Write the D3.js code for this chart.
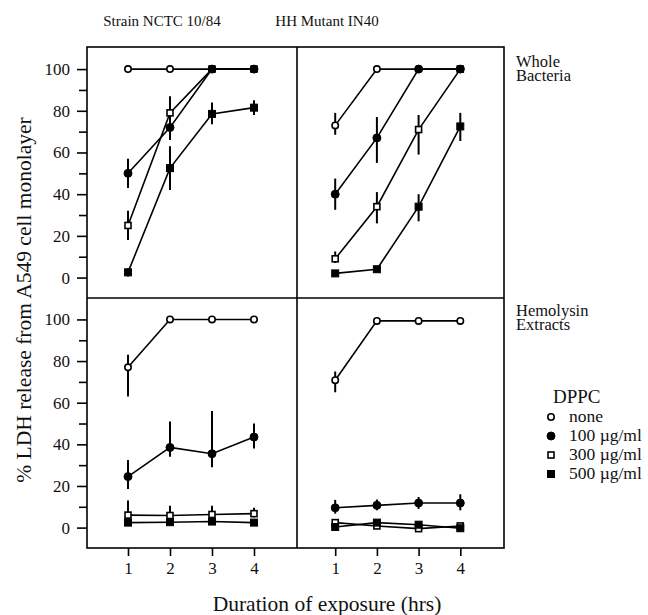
<!DOCTYPE html>
<html>
<head>
<meta charset="utf-8">
<script src="https://cdn.jsdelivr.net/npm/d3@7"></script>
<style>
  body { margin: 0; background: #fff; }
  svg text { font-family: "Liberation Serif", "Times New Roman", Times, "DejaVu Serif", serif; fill: #111; }
</style>
</head>
<body>
<div id="chart"></div>
<script>
// Sizes
const width = 648;
const height = 615;
const serif = "'Liberation Serif', 'Times New Roman', Times, 'DejaVu Serif', serif";

const frame = { left: 87, mid: 297, right: 504, top: 47, midY: 298, bottom: 548 };

// Data
const hours = [1, 2, 3, 4];
const doses = ["none", "100 \u00b5g/ml", "300 \u00b5g/ml", "500 \u00b5g/ml"];
const strains = ["Strain NCTC 10/84", "HH Mutant IN40"];
const preps = [["Whole", "Bacteria"], ["Hemolysin", "Extracts"]];
const yTicks = [0, 20, 40, 60, 80, 100];
const yMinorTicks = [10, 30, 50, 70, 90];

// rows follow doses, columns follow hours
const nctcWholeMean = [[100, 100, 100, 100], [50, 72, 100, 100], [25, 79, 100, 100], [2.5, 52.5, 78.5, 81.5]];
const nctcWholeLow  = [[100, 100, 100, 100], [43, 66, 100, 100], [18, 72, 100, 100], [0.5, 42, 73.5, 78]];
const nctcWholeHigh = [[100, 100, 100, 100], [57, 78, 100, 100], [32, 87, 100, 100], [4.5, 63, 84, 85]];

const mutantWholeMean = [[73, 100, 100, 100], [40, 67, 100, 100], [9, 34, 71, 100], [2, 4, 34, 72.5]];
const mutantWholeLow  = [[68.5, 100, 100, 100], [32.5, 55, 100, 100], [7, 26, 59, 100], [1, 2.5, 27, 65.5]];
const mutantWholeHigh = [[79, 100, 100, 100], [47.5, 77, 100, 100], [12.5, 41, 78, 100], [3, 5.5, 40, 79]];

const nctcExtractMean = [[77, 100, 100, 100], [24.5, 38.5, 35.5, 43.5], [6, 5.8, 6.3, 6.7], [2.4, 2.6, 2.9, 2.4]];
const nctcExtractLow  = [[63, 100, 100, 100], [18.5, 34, 29, 38], [4.5, 4.5, 4.8, 5], [1.5, 1.8, 2, 1.5]];
const nctcExtractHigh = [[83, 100, 100, 100], [32.5, 51, 56, 50], [13, 10.5, 10.5, 9.5], [3.3, 3.4, 3.8, 3.3]];

const mutantExtractMean = [[70.8, 99.3, 99.3, 99.3], [9.5, 10.7, 11.8, 11.8], [2.4, 0.8, -0.5, 0.8], [0.3, 2.4, 1.4, -0.3]];
const mutantExtractLow  = [[65, 99.3, 99.3, 99.3], [6.7, 8.3, 9, 8.3], [2.4, 0.8, -0.5, 0.8], [0.3, 2.4, 1.4, -0.3]];
const mutantExtractHigh = [[75, 99.3, 99.3, 99.3], [13.3, 13.5, 14.7, 16], [2.4, 0.8, -0.5, 0.8], [0.3, 2.4, 1.4, -0.3]];

const panels = [
  { col: 0, row: 0, mean: nctcWholeMean, low: nctcWholeLow, high: nctcWholeHigh },
  { col: 1, row: 0, mean: mutantWholeMean, low: mutantWholeLow, high: mutantWholeHigh },
  { col: 0, row: 1, mean: nctcExtractMean, low: nctcExtractLow, high: nctcExtractHigh },
  { col: 1, row: 1, mean: mutantExtractMean, low: mutantExtractLow, high: mutantExtractHigh }
];

const svg = d3.select("#chart")
  .append("svg")
  .attr("width", width)
  .attr("height", height);

// Scales
const xScales = [
  d3.scaleLinear().domain([0, 5]).range([86, 296]),
  d3.scaleLinear().domain([0, 5]).range([293.5, 502])
];
const yScales = [
  d3.scaleLinear().domain([-9.8, 110.6]).range([frame.midY, frame.top]),
  d3.scaleLinear().domain([-9.8, 110.3]).range([frame.bottom, frame.midY])
];

// Marker drawing
function marker(g, i, cx, cy) {
  if (i === 0 || i === 1) {
    g.append("circle")
      .attr("cx", cx).attr("cy", cy)
      .attr("r", i === 0 ? 3.2 : 4)
      .attr("fill", i === 0 ? "#fff" : "#000")
      .attr("stroke", "#000")
      .attr("stroke-width", i === 0 ? 1.6 : 1);
  } else {
    const s = i === 2 ? 6 : 7;
    g.append("rect")
      .attr("x", cx - s / 2).attr("y", cy - s / 2)
      .attr("width", s).attr("height", s)
      .attr("fill", i === 2 ? "#fff" : "#000")
      .attr("stroke", "#000")
      .attr("stroke-width", i === 2 ? 1.6 : 1);
  }
}

// Panels
panels.forEach(p => {
  const x = xScales[p.col];
  const y = yScales[p.row];
  const g = svg.append("g");
  const order = [0, 2, 3, 1];

  order.forEach(i => {
    const pts = hours.map((h, j) => ({ h, v: p.mean[i][j], lo: p.low[i][j], hi: p.high[i][j] }));

    g.append("path")
      .datum(pts)
      .attr("fill", "none")
      .attr("stroke", "#000")
      .attr("stroke-width", 1.6)
      .attr("d", d3.line().x(d => x(d.h)).y(d => y(d.v)));

    g.selectAll(null)
      .data(pts.filter(d => d.hi - d.lo > 0))
      .enter()
      .append("line")
      .attr("x1", d => x(d.h)).attr("x2", d => x(d.h))
      .attr("y1", d => y(d.lo)).attr("y2", d => y(d.hi))
      .attr("stroke", "#000")
      .attr("stroke-width", 2);
  });

  order.forEach(i => {
    hours.forEach((h, j) => marker(g, i, x(h), y(p.mean[i][j])));
  });
});

// Frame
svg.append("rect")
  .attr("x", frame.left).attr("y", frame.top)
  .attr("width", frame.right - frame.left)
  .attr("height", frame.bottom - frame.top)
  .attr("fill", "none").attr("stroke", "#000").attr("stroke-width", 1.6);
svg.append("line")
  .attr("x1", frame.mid).attr("x2", frame.mid)
  .attr("y1", frame.top).attr("y2", frame.bottom)
  .attr("stroke", "#000").attr("stroke-width", 1.6);
svg.append("line")
  .attr("x1", frame.left).attr("x2", frame.right)
  .attr("y1", frame.midY).attr("y2", frame.midY)
  .attr("stroke", "#000").attr("stroke-width", 1.6);

// Y axes
yScales.forEach(y => {
  const ax = svg.append("g")
    .attr("transform", `translate(${frame.left},0)`)
    .call(d3.axisLeft(y).tickValues(yTicks).tickSize(10).tickPadding(7));
  ax.attr("font-family", serif);
  ax.select(".domain").remove();
  ax.selectAll("line").attr("stroke-width", 1.6);
  ax.selectAll("text").attr("font-size", 17).style("font-family", serif);

  svg.append("g")
    .attr("transform", `translate(${frame.left},0)`)
    .call(d3.axisLeft(y).tickValues(yMinorTicks).tickSize(8).tickFormat(""))
    .call(a => a.select(".domain").remove())
    .selectAll("line").attr("stroke-width", 1.6);
});

// X axes
xScales.forEach(x => {
  const ax = svg.append("g")
    .attr("transform", `translate(0,${frame.bottom})`)
    .call(d3.axisBottom(x).tickValues(hours).tickFormat(d3.format("d")).tickSize(8).tickPadding(6));
  ax.attr("font-family", serif);
  ax.select(".domain").remove();
  ax.selectAll("line").attr("stroke-width", 1.6);
  ax.selectAll("text").attr("font-size", 17).style("font-family", serif);
});

// Titles
const titleX = [162, 327];
strains.forEach((s, i) => {
  svg.append("text")
    .attr("x", titleX[i]).attr("y", 26)
    .attr("text-anchor", "middle")
    .attr("font-size", 15)
    .style("font-family", serif)
    .text(s);
});

const prepY = [67, 316];
preps.forEach((lines, i) => {
  lines.forEach((t, k) => {
    svg.append("text")
      .attr("x", 516).attr("y", prepY[i] + k * 14)
      .attr("font-size", 16.5)
      .style("font-family", serif)
      .text(t);
  });
});

// Axis labels
svg.append("text")
  .attr("transform", "translate(31,300) rotate(-90)")
  .attr("text-anchor", "middle")
  .attr("font-size", 21.5)
  .style("font-family", serif)
  .text("% LDH release from A549 cell monolayer");

svg.append("text")
  .attr("x", 327).attr("y", 611)
  .attr("text-anchor", "middle")
  .attr("font-size", 21.5)
  .style("font-family", serif)
  .text("Duration of exposure (hrs)");

// Legend
const legend = svg.append("g");
legend.append("text")
  .attr("x", 553).attr("y", 403)
  .attr("font-size", 19)
  .style("font-family", serif)
  .text("DPPC");
const legendY = [417, 436, 455, 474];
doses.forEach((d, i) => {
  marker(legend, i, 551, legendY[i]);
  legend.append("text")
    .attr("x", 569).attr("y", legendY[i] + 5)
    .attr("font-size", 17.5)
    .style("font-family", serif)
    .text(d);
});
</script>
</body>
</html>
